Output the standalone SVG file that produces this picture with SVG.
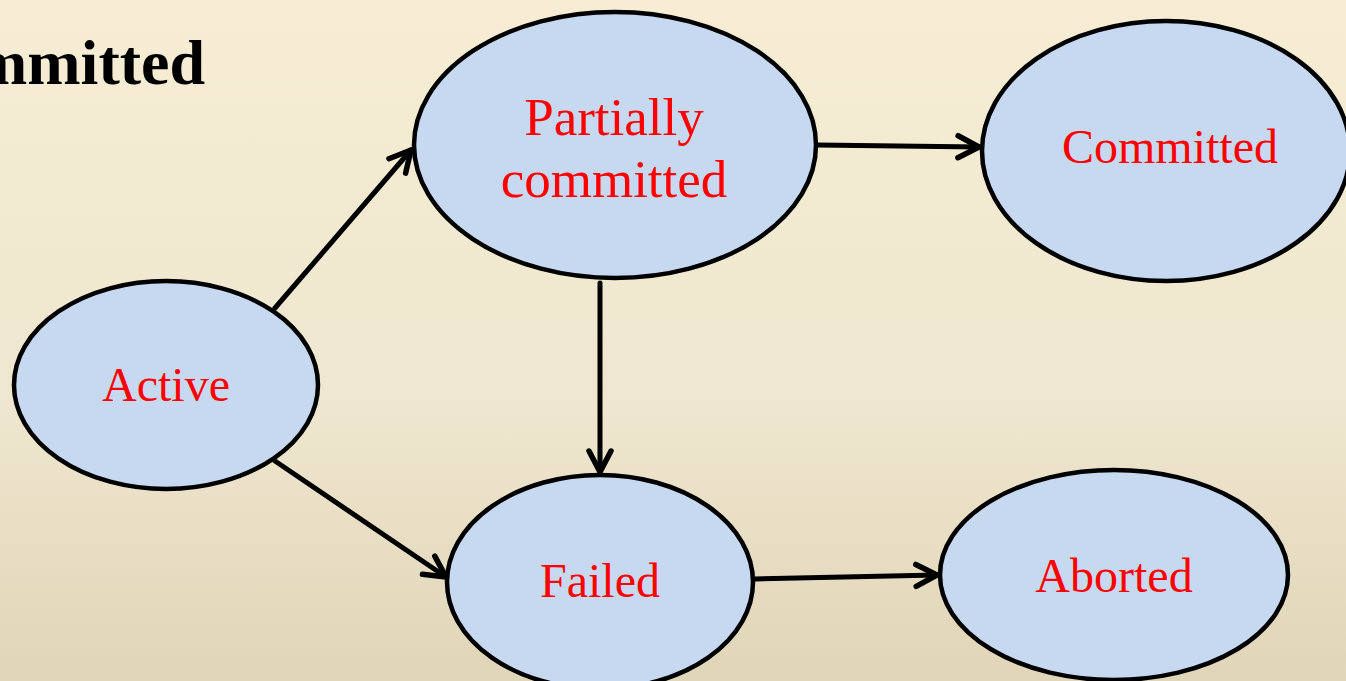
<svg xmlns="http://www.w3.org/2000/svg" width="1346" height="681" viewBox="0 0 1346 681">
<defs>
<linearGradient id="bg" x1="0" y1="0" x2="0" y2="1">
<stop offset="0" stop-color="#F6EDD4"/>
<stop offset="0.6" stop-color="#EEE6CE"/>
<stop offset="1" stop-color="#E0D5B8"/>
</linearGradient>
<marker id="arr" markerUnits="userSpaceOnUse" markerWidth="30" markerHeight="30" refX="24" refY="13" orient="auto" overflow="visible">
<path d="M3,2 L24,13 L3,24" fill="none" stroke="#000" stroke-width="5.5" stroke-linecap="round" stroke-linejoin="round"/>
</marker>
</defs>
<style>
.node ellipse{fill:#C6D9F0;stroke:#000;stroke-width:4.5}
.lbl{font-family:"Liberation Serif","Times New Roman",serif;fill:#FF0000;text-anchor:middle;font-size:48px}
.big{font-size:53px}
.conn line{stroke:#000;stroke-width:5;stroke-linecap:round;marker-end:url(#arr)}
</style>
<rect x="0" y="0" width="1346" height="681" fill="url(#bg)"/>
<text x="205" y="84" text-anchor="end" font-family="Liberation Serif,'Times New Roman',serif" font-weight="bold" font-size="64" fill="#000">mmitted</text>
<g id="connectors" class="conn">
<line x1="275" y1="308" x2="411" y2="150"/>
<line x1="275" y1="461" x2="446" y2="577"/>
<line x1="600" y1="283" x2="600" y2="472"/>
<line x1="817" y1="145" x2="979" y2="147"/>
<line x1="755" y1="579" x2="937" y2="575"/>
</g>
<g id="partially" class="node"><ellipse cx="615" cy="145" rx="201" ry="133"/><text class="lbl big" x="614" y="135">Partially</text><text class="lbl big" x="614" y="197">committed</text></g>
<g id="committed" class="node"><ellipse cx="1166" cy="151" rx="184" ry="130"/><text class="lbl" x="1170" y="163">Committed</text></g>
<g id="active" class="node"><ellipse cx="166" cy="385" rx="152" ry="104"/><text class="lbl" x="166" y="401">Active</text></g>
<g id="failed" class="node"><ellipse cx="600" cy="582" rx="153" ry="107"/><text class="lbl" x="600" y="597">Failed</text></g>
<g id="aborted" class="node"><ellipse cx="1114" cy="575" rx="174" ry="105"/><text class="lbl" x="1114" y="592">Aborted</text></g>
</svg>
